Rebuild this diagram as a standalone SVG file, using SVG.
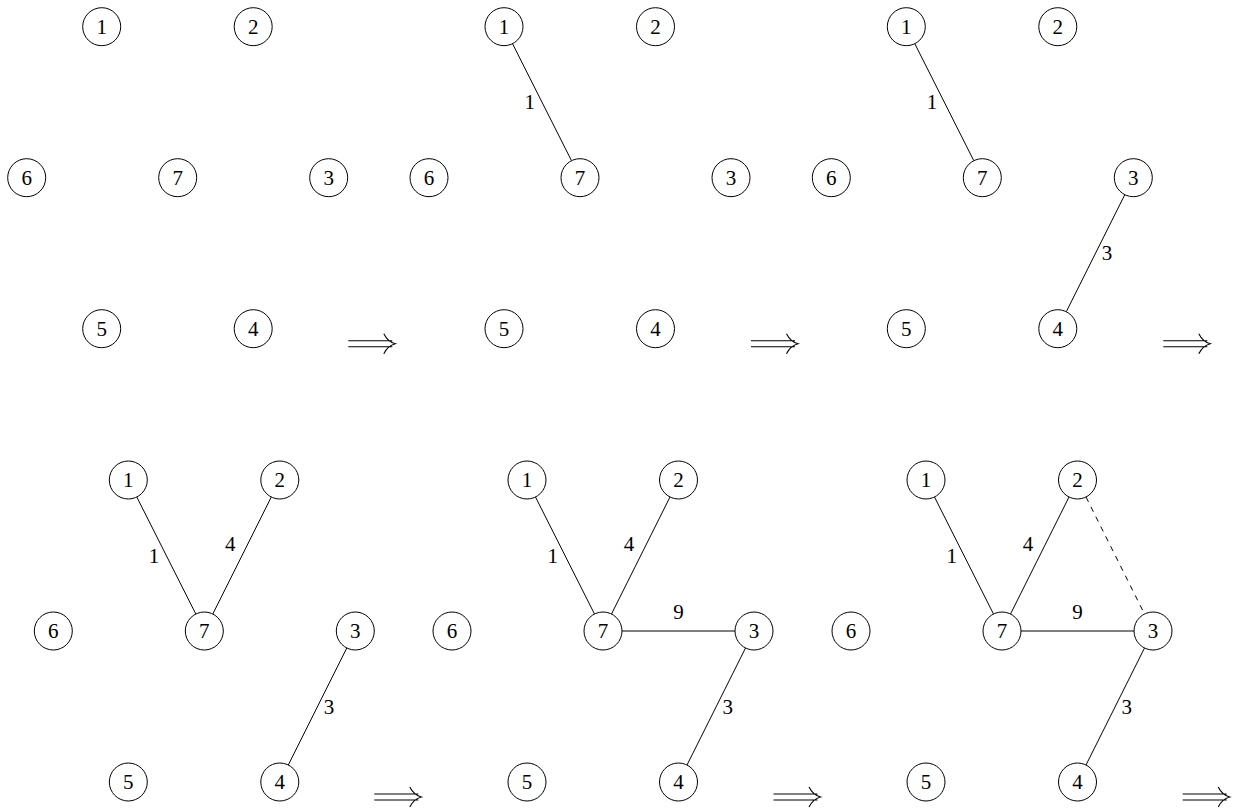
<svg xmlns="http://www.w3.org/2000/svg" width="1237" height="811" viewBox="0 0 1237 811">
<style>
.n circle{fill:#fff;stroke:#000;stroke-width:1}
.n text,.lbl{font-family:"Liberation Serif","DejaVu Serif",serif;font-size:21px;fill:#000;text-anchor:middle}
.e{stroke:#000;stroke-width:1;fill:none}
.d{stroke-dasharray:5.5 5.5}
.arr{stroke:#000;stroke-width:1.1;fill:none}
</style>
<rect width="1237" height="811" fill="#fff"/>

<!-- Panel 1 -->
<g id="p1" transform="translate(26.7,26.7)">
  <g id="p1-n1" class="n"><circle cx="75" cy="0" r="19"/><text x="75" y="7">1</text></g>
  <g id="p1-n2" class="n"><circle cx="226.5" cy="0" r="19"/><text x="226.5" y="7">2</text></g>
  <g id="p1-n6" class="n"><circle cx="0" cy="151" r="19"/><text x="0" y="158">6</text></g>
  <g id="p1-n7" class="n"><circle cx="151" cy="151" r="19"/><text x="151" y="158">7</text></g>
  <g id="p1-n3" class="n"><circle cx="302" cy="151" r="19"/><text x="302" y="158">3</text></g>
  <g id="p1-n5" class="n"><circle cx="75" cy="302" r="19"/><text x="75" y="309">5</text></g>
  <g id="p1-n4" class="n"><circle cx="226.5" cy="302" r="19"/><text x="226.5" y="309">4</text></g>
</g>

<!-- Panel 2 -->
<g id="p2" transform="translate(429,26.7)">
  <g id="p2-connectors">
    <line class="e" x1="83.5" y1="17" x2="142.5" y2="134"/>
    <text class="lbl" x="100.7" y="82.5">1</text>
  </g>
  <g id="p2-n1" class="n"><circle cx="75" cy="0" r="19"/><text x="75" y="7">1</text></g>
  <g id="p2-n2" class="n"><circle cx="226.5" cy="0" r="19"/><text x="226.5" y="7">2</text></g>
  <g id="p2-n6" class="n"><circle cx="0" cy="151" r="19"/><text x="0" y="158">6</text></g>
  <g id="p2-n7" class="n"><circle cx="151" cy="151" r="19"/><text x="151" y="158">7</text></g>
  <g id="p2-n3" class="n"><circle cx="302" cy="151" r="19"/><text x="302" y="158">3</text></g>
  <g id="p2-n5" class="n"><circle cx="75" cy="302" r="19"/><text x="75" y="309">5</text></g>
  <g id="p2-n4" class="n"><circle cx="226.5" cy="302" r="19"/><text x="226.5" y="309">4</text></g>
</g>

<!-- Panel 3 -->
<g id="p3" transform="translate(831.3,26.7)">
  <g id="p3-connectors">
    <line class="e" x1="83.5" y1="17" x2="142.5" y2="134"/>
    <text class="lbl" x="100.7" y="82.5">1</text>
    <line class="e" x1="293.5" y1="168" x2="235" y2="285"/>
    <text class="lbl" x="275.8" y="233.6">3</text>
  </g>
  <g id="p3-n1" class="n"><circle cx="75" cy="0" r="19"/><text x="75" y="7">1</text></g>
  <g id="p3-n2" class="n"><circle cx="226.5" cy="0" r="19"/><text x="226.5" y="7">2</text></g>
  <g id="p3-n6" class="n"><circle cx="0" cy="151" r="19"/><text x="0" y="158">6</text></g>
  <g id="p3-n7" class="n"><circle cx="151" cy="151" r="19"/><text x="151" y="158">7</text></g>
  <g id="p3-n3" class="n"><circle cx="302" cy="151" r="19"/><text x="302" y="158">3</text></g>
  <g id="p3-n5" class="n"><circle cx="75" cy="302" r="19"/><text x="75" y="309">5</text></g>
  <g id="p3-n4" class="n"><circle cx="226.5" cy="302" r="19"/><text x="226.5" y="309">4</text></g>
</g>

<!-- Panel 4 -->
<g id="p4" transform="translate(53.3,480)">
  <g id="p4-connectors">
    <line class="e" x1="83.5" y1="17" x2="142.5" y2="134"/>
    <text class="lbl" x="100.7" y="82.5">1</text>
    <line class="e" x1="218" y1="17" x2="159.5" y2="134"/>
    <text class="lbl" x="177" y="71">4</text>
    <line class="e" x1="293.5" y1="168" x2="235" y2="285"/>
    <text class="lbl" x="275.8" y="233.6">3</text>
  </g>
  <g id="p4-n1" class="n"><circle cx="75" cy="0" r="19"/><text x="75" y="7">1</text></g>
  <g id="p4-n2" class="n"><circle cx="226.5" cy="0" r="19"/><text x="226.5" y="7">2</text></g>
  <g id="p4-n6" class="n"><circle cx="0" cy="151" r="19"/><text x="0" y="158">6</text></g>
  <g id="p4-n7" class="n"><circle cx="151" cy="151" r="19"/><text x="151" y="158">7</text></g>
  <g id="p4-n3" class="n"><circle cx="302" cy="151" r="19"/><text x="302" y="158">3</text></g>
  <g id="p4-n5" class="n"><circle cx="75" cy="302" r="19"/><text x="75" y="309">5</text></g>
  <g id="p4-n4" class="n"><circle cx="226.5" cy="302" r="19"/><text x="226.5" y="309">4</text></g>
</g>

<!-- Panel 5 -->
<g id="p5" transform="translate(452,480)">
  <g id="p5-connectors">
    <line class="e" x1="83.5" y1="17" x2="142.5" y2="134"/>
    <text class="lbl" x="100.7" y="82.5">1</text>
    <line class="e" x1="218" y1="17" x2="159.5" y2="134"/>
    <text class="lbl" x="177" y="71">4</text>
    <line class="e" x1="170" y1="151" x2="283" y2="151"/>
    <text class="lbl" x="226.5" y="138.5">9</text>
    <line class="e" x1="293.5" y1="168" x2="235" y2="285"/>
    <text class="lbl" x="275.8" y="233.6">3</text>
  </g>
  <g id="p5-n1" class="n"><circle cx="75" cy="0" r="19"/><text x="75" y="7">1</text></g>
  <g id="p5-n2" class="n"><circle cx="226.5" cy="0" r="19"/><text x="226.5" y="7">2</text></g>
  <g id="p5-n6" class="n"><circle cx="0" cy="151" r="19"/><text x="0" y="158">6</text></g>
  <g id="p5-n7" class="n"><circle cx="151" cy="151" r="19"/><text x="151" y="158">7</text></g>
  <g id="p5-n3" class="n"><circle cx="302" cy="151" r="19"/><text x="302" y="158">3</text></g>
  <g id="p5-n5" class="n"><circle cx="75" cy="302" r="19"/><text x="75" y="309">5</text></g>
  <g id="p5-n4" class="n"><circle cx="226.5" cy="302" r="19"/><text x="226.5" y="309">4</text></g>
</g>

<!-- Panel 6 -->
<g id="p6" transform="translate(851,480)">
  <g id="p6-connectors">
    <line class="e" x1="83.5" y1="17" x2="142.5" y2="134"/>
    <text class="lbl" x="100.7" y="82.5">1</text>
    <line class="e" x1="218" y1="17" x2="159.5" y2="134"/>
    <text class="lbl" x="177" y="71">4</text>
    <line class="e" x1="170" y1="151" x2="283" y2="151"/>
    <text class="lbl" x="226.5" y="138.5">9</text>
    <line class="e" x1="293.5" y1="168" x2="235" y2="285"/>
    <text class="lbl" x="275.8" y="233.6">3</text>
    <line class="e d" x1="235" y1="17" x2="293.5" y2="134"/>
  </g>
  <g id="p6-n1" class="n"><circle cx="75" cy="0" r="19"/><text x="75" y="7">1</text></g>
  <g id="p6-n2" class="n"><circle cx="226.5" cy="0" r="19"/><text x="226.5" y="7">2</text></g>
  <g id="p6-n6" class="n"><circle cx="0" cy="151" r="19"/><text x="0" y="158">6</text></g>
  <g id="p6-n7" class="n"><circle cx="151" cy="151" r="19"/><text x="151" y="158">7</text></g>
  <g id="p6-n3" class="n"><circle cx="302" cy="151" r="19"/><text x="302" y="158">3</text></g>
  <g id="p6-n5" class="n"><circle cx="75" cy="302" r="19"/><text x="75" y="309">5</text></g>
  <g id="p6-n4" class="n"><circle cx="226.5" cy="302" r="19"/><text x="226.5" y="309">4</text></g>
</g>

<!-- Implication arrows -->
<defs>
  <path id="imp" class="arr" d="M0,-3 H44 M0,3 H44 M35.5,-10 Q39.5,-2 47,0 Q39.5,2 35.5,10"/>
</defs>
<g id="arrows">
  <use href="#imp" x="348.3" y="343.7"/>
  <use href="#imp" x="751" y="343.7"/>
  <use href="#imp" x="1163.3" y="343.7"/>
  <use href="#imp" x="374.3" y="797"/>
  <use href="#imp" x="773.5" y="797"/>
  <use href="#imp" x="1182.7" y="797"/>
</g>
</svg>
